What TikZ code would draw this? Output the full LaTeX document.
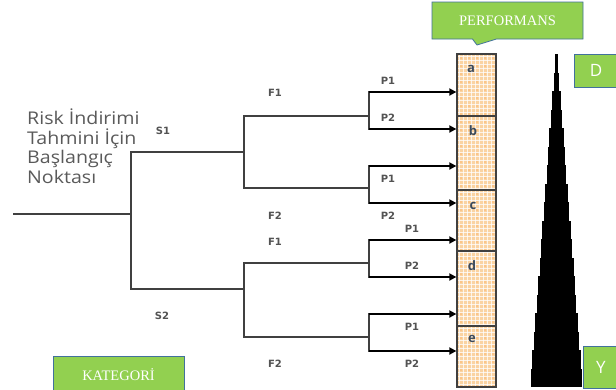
\documentclass[tikz,border=0pt]{standalone}
\usepackage{fontspec}
\setmainfont{Liberation Serif}
\newfontfamily\tagfont{DejaVu Sans}
\newfontfamily\notefont[FakeStretch=1.12]{Open Sans}
\newfontfamily\boxfont{Open Sans}
\usetikzlibrary{arrows.meta,shapes.callouts}

\definecolor{leaf}{HTML}{92D050}
\definecolor{leafedge}{HTML}{41719C}
\definecolor{treeline}{HTML}{404040}
\definecolor{colfill}{HTML}{FAD3A2}
\definecolor{segtext}{HTML}{3B4A5C}
\definecolor{notegray}{HTML}{5A5A5A}

\tikzset{
  tree/.style={draw=treeline, line width=1.3pt, line cap=rect},
  arr/.style={draw=black, line width=1.7pt, -{Triangle[length=7pt,width=7pt]}},
  tag/.style={font=\tagfont\bfseries\fontsize{10}{10}\selectfont, text=treeline!90, inner sep=0pt},
  greenbox/.style={fill=leaf, draw=leafedge, line width=0.8pt, text=white, inner sep=0pt},
  seg/.style={draw=treeline, line width=1.3pt, minimum width=39pt, inner sep=0pt},
  seglbl/.style={font=\boxfont\bfseries\fontsize{13}{13}\selectfont, text=segtext, inner sep=0pt},
}

\begin{document}
\begin{tikzpicture}[x=1pt,y=-1pt]
\useasboundingbox (0,0) rectangle (616,389);
\fill[white] (0,0) rectangle (616,389);

% --- performance column: light orange with a fine white grid ---
\fill[colfill] (457,54) rectangle (496,387);
\begin{scope}
  \clip (457,54) rectangle (496,387);
  \foreach \yy in {56,60,...,388} \draw[white, line width=0.7pt, opacity=0.75] (457,\yy) -- (496,\yy);
  \foreach \xx in {459,463,...,496} \draw[white, line width=0.7pt, opacity=0.75] (\xx,54) -- (\xx,387);
  \foreach \yy in {58,66,...,388} \foreach \xx in {461,469,...,496}
    \fill[orange!70, opacity=0.6] (\xx,\yy) circle (0.9pt);
\end{scope}

% column segments
\node[seg, minimum height=62pt] (a) at (476.5,85) {};
\node[seg, minimum height=74pt] (b) at (476.5,153) {};
\node[seg, minimum height=61pt] (c) at (476.5,220.5) {};
\node[seg, minimum height=75pt] (d) at (476.5,288.5) {};
\node[seg, minimum height=61pt] (e) at (476.5,356.5) {};
\node[seglbl] (la) at (471,69) {a};
\node[seglbl] (lb) at (473,131) {b};
\node[seglbl] (lc) at (473,206) {c};
\node[seglbl] (ld) at (472,266) {d};
\node[seglbl] (le) at (472,339) {e};

% --- decision tree ---
\coordinate (root) at (14,214);
\coordinate (j0) at (131,214);
\coordinate (s1) at (131,152);
\coordinate (s2) at (131,289);
\coordinate (k1) at (244,152);
\coordinate (k2) at (244,289);
\coordinate (f11) at (244,116);
\coordinate (f12) at (244,188);
\coordinate (f21) at (244,263);
\coordinate (f22) at (244,337);
\coordinate (g11) at (369,116);
\coordinate (g12) at (369,188);
\coordinate (g21) at (369,263);
\coordinate (g22) at (369,337);
\coordinate (p1) at (369,92);
\coordinate (p2) at (369,129);
\coordinate (p3) at (369,166);
\coordinate (p4) at (369,203);
\coordinate (p5) at (369,240);
\coordinate (p6) at (369,277);
\coordinate (p7) at (369,314);
\coordinate (p8) at (369,351);

\draw[tree] (root) -- (j0);
\draw[tree] (k1) -- (s1) -- (s2) -- (k2);
\draw[tree] (g11) -- (f11) -- (f12) -- (g12);
\draw[tree] (g21) -- (f21) -- (f22) -- (g22);
\draw[tree] (p1) -- (p2);
\draw[tree] (p3) -- (p4);
\draw[tree] (p5) -- (p6);
\draw[tree] (p7) -- (p8);

\draw[arr] (p1) -- (p1 -| a.west);
\draw[arr] (p2) -- (p2 -| b.west);
\draw[arr] (p3) -- (p3 -| b.west);
\draw[arr] (p4) -- (p4 -| c.west);
\draw[arr] (p5) -- (p5 -| c.west);
\draw[arr] (p6) -- (p6 -| d.west);
\draw[arr] (p7) -- (p7 -| d.west);
\draw[arr] (p8) -- (p8 -| e.west);

% branch labels
\node[tag] (ts1) at (163,131) {S1};
\node[tag] (ts2) at (162,316) {S2};
\node[tag] (tf1) at (275,93) {F1};
\node[tag] (tf2) at (275,216) {F2};
\node[tag] (tf3) at (275,242) {F1};
\node[tag] (tf4) at (275,364) {F2};
\node[tag] (tp1) at (388,81) {P1};
\node[tag] (tp2) at (388,118) {P2};
\node[tag] (tp3) at (388,179) {P1};
\node[tag] (tp4) at (388,216) {P2};
\node[tag] (tp5) at (412,229) {P1};
\node[tag] (tp6) at (412,266) {P2};
\node[tag] (tp7) at (412,327) {P1};
\node[tag] (tp8) at (412,364) {P2};

% starting point note
\node[anchor=north west, inner sep=0pt, align=left, text=notegray,
      font=\notefont\fontsize{17.5}{19.5}\selectfont] (start) at (27,109)
  {Risk İndirimi\\Tahmini İçin\\Başlangıç\\Noktası};

% --- stepped scale triangle ---
\foreach \i in {0,...,17}
  \fill[black] ({556.5-25.5*(\i+1)/18},{54+18.5*\i}) rectangle ({556.5+25.5*(\i+1)/18},387);

% --- green labels ---
\node[greenbox, rectangle callout, callout absolute pointer={(477,45)},
      callout pointer width=24pt, minimum width=151pt, minimum height=37pt,
      font=\fontsize{14.5}{14.5}\selectfont] (perf) at (507.5,20.5) {PERFORMANS};
\node[greenbox, minimum width=131pt, minimum height=38pt,
      font=\fontsize{14.5}{14.5}\selectfont] (kat) at (118.5,375) {KATEGORİ};
\node[greenbox, minimum width=44pt, minimum height=33pt,
      font=\boxfont\fontsize{17}{17}\selectfont] (dbox) at (596,70.5) {D};
\node[greenbox, minimum width=36pt, minimum height=42pt,
      font=\boxfont\fontsize{17}{17}\selectfont] (ybox) at (601,367) {Y};
\end{tikzpicture}
\end{document}
